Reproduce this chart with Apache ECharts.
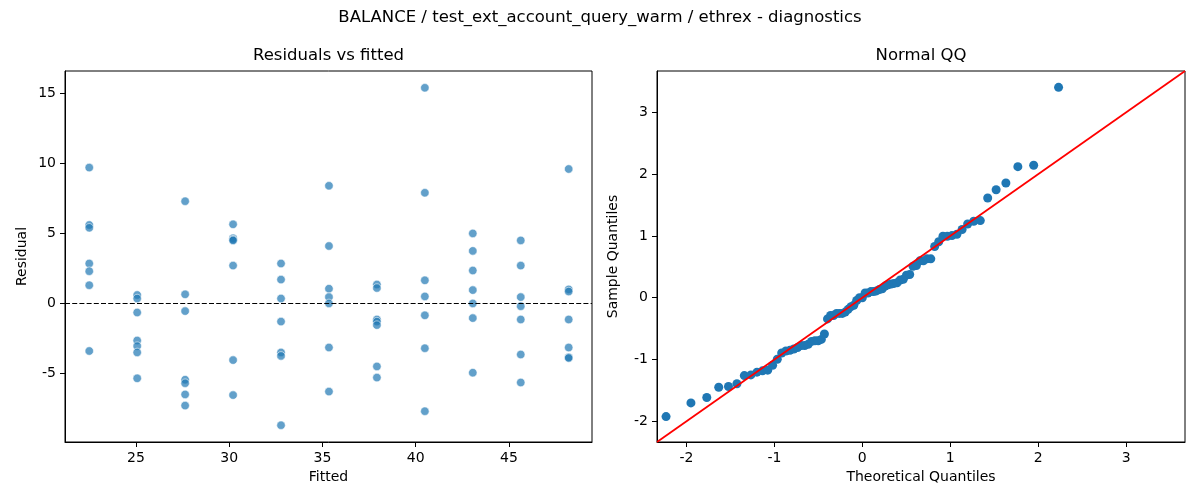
<!DOCTYPE html>
<html>
<head>
<meta charset="utf-8">
<script src="https://cdn.jsdelivr.net/npm/echarts@6/dist/echarts.min.js"></script>
<style>
html,body{margin:0;padding:0;background:#fff;}
#chart{width:1200px;height:500px;}
</style>
</head>
<body>
<div id="chart"></div>
<script>
// ---- data ----
const suptitle = 'BALANCE / test_ext_account_query_warm / ethrex - diagnostics';
const leftTitle = 'Residuals vs fitted';
const rightTitle = 'Normal QQ';

const fittedLevels = [22.5, 25.07, 27.64, 30.21, 32.78, 35.35, 37.92, 40.49, 43.06, 45.63, 48.2];
const residualGroups = [
  [9.7, 5.6, 5.4, 2.85, 2.3, 1.3, -3.4],
  [0.6, 0.35, -0.65, -2.65, -3.05, -3.5, -5.35],
  [7.3, 0.65, -0.55, -5.45, -5.7, -6.5, -7.3],
  [5.65, 4.65, 4.55, 4.5, 2.7, -4.05, -6.55],
  [2.85, 1.7, 0.35, -1.3, -3.5, -3.75, -8.7],
  [8.4, 4.1, 1.05, 0.45, 0.0, -3.15, -6.3],
  [1.35, 1.1, -1.15, -1.3, -1.55, -4.5, -5.3],
  [15.4, 7.9, 1.65, 0.5, -0.85, -3.2, -7.7],
  [5.0, 3.75, 2.35, 0.95, 0.0, -1.05, -4.95],
  [4.5, 2.7, 0.45, -0.2, -1.15, -3.65, -5.65],
  [9.6, 1.0, 0.85, -1.15, -3.15, -3.85, -3.9]
];

const theoreticalQ = [
  -2.232, -1.949, -1.769, -1.633, -1.522, -1.426, -1.342, -1.267, -1.198, -1.135,
  -1.076, -1.020, -0.967, -0.917, -0.869, -0.823, -0.779, -0.736, -0.695, -0.655,
  -0.615, -0.577, -0.539, -0.502, -0.466, -0.431, -0.396, -0.361, -0.327, -0.293,
  -0.260, -0.227, -0.194, -0.161, -0.129, -0.097, -0.064, -0.032, 0.000, 0.032,
  0.064, 0.097, 0.129, 0.161, 0.194, 0.227, 0.260, 0.293, 0.327, 0.361,
  0.396, 0.431, 0.466, 0.502, 0.539, 0.577, 0.615, 0.655, 0.695, 0.736,
  0.779, 0.823, 0.869, 0.917, 0.967, 1.020, 1.076, 1.135, 1.198, 1.267,
  1.342, 1.426, 1.522, 1.633, 1.769, 1.949, 2.232
];
const sampleQ = [
  -1.924, -1.702, -1.614, -1.448, -1.437, -1.393, -1.260, -1.249, -1.205, -1.183,
  -1.172, -1.094, -0.995, -0.895, -0.862, -0.851, -0.829, -0.807, -0.774, -0.774,
  -0.752, -0.707, -0.696, -0.696, -0.674, -0.586, -0.343, -0.287, -0.287, -0.254,
  -0.254, -0.254, -0.232, -0.188, -0.144, -0.122, -0.044, 0.000, 0.000, 0.077,
  0.077, 0.099, 0.099, 0.111, 0.133, 0.144, 0.188, 0.210, 0.221, 0.232,
  0.243, 0.287, 0.298, 0.365, 0.376, 0.509, 0.520, 0.597, 0.597, 0.630,
  0.630, 0.829, 0.906, 0.995, 0.995, 1.006, 1.028, 1.105, 1.194, 1.238,
  1.249, 1.614, 1.747, 1.857, 2.122, 2.145, 3.405
];

const leftXTicks = [25, 30, 35, 40, 45];
const leftYTicks = [-5, 0, 5, 10, 15];
const qqTicks = [-2, -1, 0, 1, 2, 3];
const leftXRange = [21.2, 49.45];
const leftYRange = [-9.9, 16.6];
const qqRange = [-2.335, 3.67];

// ---- build ----
const residPoints = [];
fittedLevels.forEach((f, i) => residualGroups[i].forEach(r => residPoints.push([f, r])));
const qqPoints = theoreticalQ.map((t, i) => [t, sampleQ[i]]);

const FONT = 'DejaVu Sans';
function axisCommon(ticks, range, name, nameGap) {
  return {
    type: 'value', min: range[0], max: range[1],
    name: name, nameLocation: 'middle', nameGap: nameGap,
    nameTextStyle: {color: '#000', fontSize: 14, fontFamily: FONT},
    axisLine: {show: true, onZero: false, lineStyle: {color: '#000', width: 1}},
    axisTick: {show: true, inside: false, length: 5, lineStyle: {color: '#000', width: 1}, customValues: ticks},
    axisLabel: {color: '#000', fontSize: 14, fontFamily: FONT, margin: 9, customValues: ticks},
    splitLine: {show: false}
  };
}

const chart = echarts.init(document.getElementById('chart'), null, {renderer: 'canvas'});
chart.setOption({
  animation: false,
  backgroundColor: '#fff',
  graphic: [
    {type: 'text', x: 600, y: 18, style: {text: suptitle, textAlign: 'center', textVerticalAlign: 'middle', font: '16.5px "DejaVu Sans"', fill: '#000'}},
    {type: 'text', x: 328.5, y: 56, style: {text: leftTitle, textAlign: 'center', textVerticalAlign: 'middle', font: '16.5px "DejaVu Sans"', fill: '#000'}},
    {type: 'text', x: 921, y: 56, style: {text: rightTitle, textAlign: 'center', textVerticalAlign: 'middle', font: '16.5px "DejaVu Sans"', fill: '#000'}}
  ],
  grid: [
    {left: 65, top: 71, width: 527, height: 371, show: true, borderColor: '#000', borderWidth: 1, backgroundColor: 'transparent'},
    {left: 657, top: 71, width: 528, height: 371, show: true, borderColor: '#000', borderWidth: 1, backgroundColor: 'transparent'}
  ],
  xAxis: [
    Object.assign(axisCommon(leftXTicks, leftXRange, 'Fitted', 27), {gridIndex: 0}),
    Object.assign(axisCommon(qqTicks, qqRange, 'Theoretical Quantiles', 27), {gridIndex: 1})
  ],
  yAxis: [
    Object.assign(axisCommon(leftYTicks, leftYRange, 'Residual', 36), {gridIndex: 0}),
    Object.assign(axisCommon(qqTicks, qqRange, 'Sample Quantiles', 37), {gridIndex: 1})
  ],
  series: [
    {
      type: 'scatter', xAxisIndex: 0, yAxisIndex: 0, data: residPoints,
      symbolSize: 8.5,
      itemStyle: {color: '#1f77b4', opacity: 0.7, borderColor: '#fff', borderWidth: 0.8},
      markLine: {
        silent: true, symbol: ['none', 'none'], label: {show: false},
        lineStyle: {color: '#000', type: [5, 2.2], width: 1.2},
        data: [{yAxis: 0}]
      }
    },
    {
      type: 'scatter', xAxisIndex: 1, yAxisIndex: 1, data: qqPoints,
      symbolSize: 9,
      itemStyle: {color: '#1f77b4', opacity: 1}
    },
    {
      type: 'line', xAxisIndex: 1, yAxisIndex: 1,
      data: [[qqRange[0], qqRange[0]], [qqRange[1], qqRange[1]]],
      symbol: 'none', silent: true, z: 5,
      lineStyle: {color: '#ff0000', width: 1.8}
    }
  ]
});
</script>
</body>
</html>
